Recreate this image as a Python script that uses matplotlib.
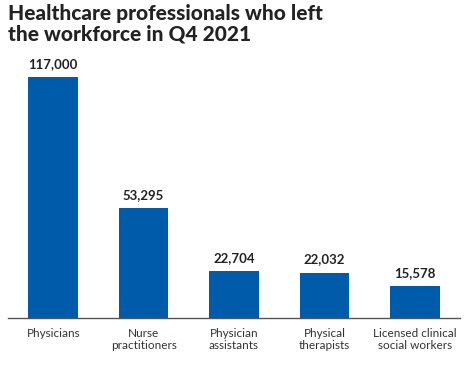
import matplotlib.pyplot as plt

# Data
categories = ["Physicians", "Nurse\npractitioners", "Physician\nassistants",
              "Physical\ntherapists", "Licensed clinical\nsocial workers"]
values = [117000, 53295, 22704, 22032, 15578]

plt.rcParams['font.family'] = ['Lato', 'DejaVu Sans']

fig = plt.figure(figsize=(4.72, 3.65), dpi=100)
ax = fig.add_axes([8 / 472, 47 / 365, 452 / 472, (318 - 77) / 365])

x = range(len(values))
bars = ax.bar(x, values, width=0.55, color="#005BAA")
ax.set_xlim(-0.5, 4.5)
ax.set_ylim(0, 117000)

for b, v in zip(bars, values):
    ax.text(b.get_x() + b.get_width() / 2, v + 3500, f"{v:,}",
            ha="center", va="bottom", fontsize=9.5, fontweight="bold",
            color="#222222", clip_on=False)

ax.set_xticks(list(x))
ax.set_xticklabels(categories, fontsize=8.5, color="#333333", linespacing=1.15)
ax.tick_params(axis="x", length=0, pad=7)
ax.set_yticks([])
for s in ["top", "right", "left"]:
    ax.spines[s].set_visible(False)
ax.spines["bottom"].set_color("#555555")
ax.spines["bottom"].set_linewidth(1)

fig.text(8 / 472, 1 - 4 / 365, "Healthcare professionals who left\nthe workforce in Q4 2021",
         ha="left", va="top", fontsize=15, fontweight="black", color="#222222",
         linespacing=1.1)

fig.savefig("out.png", dpi=100)
